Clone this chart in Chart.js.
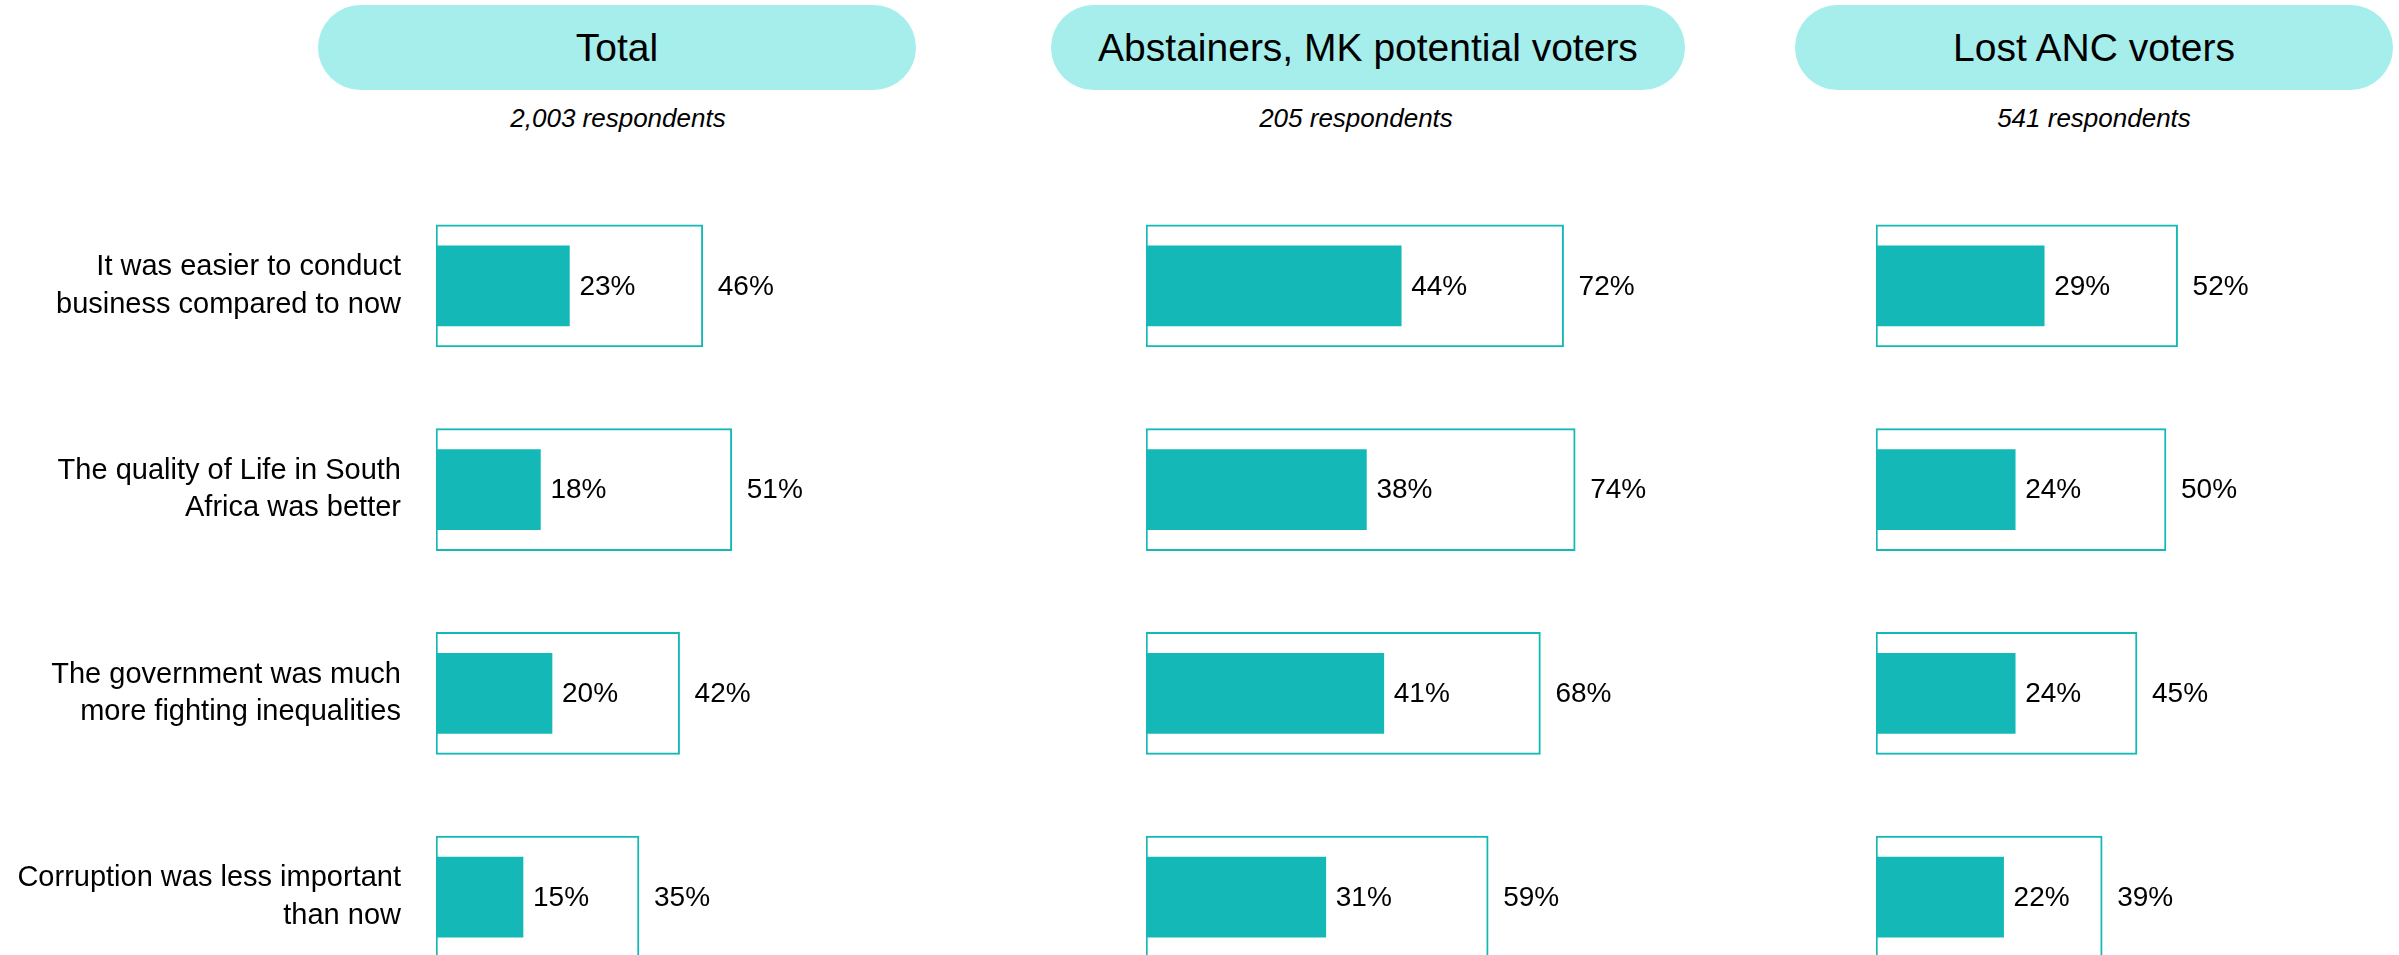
<!DOCTYPE html>
<html lang="en">
<head>
<meta charset="utf-8">
<title>Past was better – by group</title>
<script src="https://cdn.jsdelivr.net/npm/chart.js@4.4.1/dist/chart.umd.min.js"></script>
<style>
  html, body {
    margin: 0;
    padding: 0;
    width: 2399px;
    height: 955px;
    overflow: hidden;
    background: #fff;
    position: relative;
    font-family: "Liberation Sans", Arial, sans-serif;
    color: #000;
  }
  .pill {
    position: absolute;
    top: 5px;
    height: 85px;
    border-radius: 43px;
    background: #a6eeec;
    display: flex;
    align-items: center;
    justify-content: center;
    font-size: 39px;
  }
  .sub {
    position: absolute;
    top: 100px;
    height: 36px;
    line-height: 36px;
    font-size: 26px;
    font-style: italic;
    text-align: center;
    white-space: nowrap;
  }
  .chart-wrap {
    position: absolute;
    top: 184px;
    height: 815px;
  }
</style>
</head>
<body>

<div id="headers"></div>
<div class="chart-wrap" id="wrap0"><canvas id="chart0"></canvas></div>
<div class="chart-wrap" id="wrap1"><canvas id="chart1"></canvas></div>
<div class="chart-wrap" id="wrap2"><canvas id="chart2"></canvas></div>

<script>
// ── Data ──────────────────────────────────────────────────────────────────────
const statements = [
  ['It was easier to conduct', 'business compared to now'],
  ['The quality of Life in South', 'Africa was better'],
  ['The government was much', 'more fighting inequalities'],
  ['Corruption was less important', 'than now'],
];

const groups      = ['Total', 'Abstainers, MK potential voters', 'Lost ANC voters'];
const respondents = ['2,003 respondents', '205 respondents', '541 respondents'];

// inner (solid) bar values, %
const strongTotal      = [23, 18, 20, 15];
const strongAbstainers = [44, 38, 41, 31];
const strongLostAnc    = [29, 24, 24, 22];

// outer (box) values, %
const anyTotal      = [46, 51, 42, 35];
const anyAbstainers = [72, 74, 68, 59];
const anyLostAnc    = [52, 50, 45, 39];

const innerSeries = [strongTotal, strongAbstainers, strongLostAnc];
const outerSeries = [anyTotal, anyAbstainers, anyLostAnc];

// ── Look ──────────────────────────────────────────────────────────────────────
const TEAL = '#14b9b7';
const FONT = '"Liberation Sans", Arial, sans-serif';
const PX_PER_PCT = 5.8;

// panel layout: where each plot area starts, its width, the header pill
const PANELS = [
  { left: 0,    plotLeft: 436,  width: 1016, pill: [318, 598],  subCenter: 618 },
  { left: 1146, plotLeft: 1146, width: 580,  pill: [1051, 634], subCenter: 1356 },
  { left: 1876, plotLeft: 1876, width: 523,  pill: [1795, 598], subCenter: 2094 },
];

// ── Headers ───────────────────────────────────────────────────────────────────
const headers = document.getElementById('headers');
PANELS.forEach((p, i) => {
  const pill = document.createElement('div');
  pill.className = 'pill';
  pill.style.left = p.pill[0] + 'px';
  pill.style.width = p.pill[1] + 'px';
  pill.textContent = groups[i];
  headers.appendChild(pill);

  const sub = document.createElement('div');
  sub.className = 'sub';
  sub.style.left = (p.subCenter - 200) + 'px';
  sub.style.width = '400px';
  sub.textContent = respondents[i];
  headers.appendChild(sub);
});

// ── Value labels plugin ───────────────────────────────────────────────────────
const valueLabels = {
  id: 'valueLabels',
  afterDatasetsDraw(chart) {
    const ctx = chart.ctx;
    ctx.save();
    ctx.font = `28px ${FONT}`;
    ctx.fillStyle = '#000';
    ctx.textAlign = 'left';
    ctx.textBaseline = 'middle';
    chart.data.datasets.forEach((ds, di) => {
      const meta = chart.getDatasetMeta(di);
      const gap = di === 0 ? 10 : 15;
      meta.data.forEach((bar, i) => {
        ctx.fillText(ds.data[i] + '%', bar.x + gap, bar.y + 1);
      });
    });
    ctx.restore();
  }
};

// ── Charts ────────────────────────────────────────────────────────────────────
function renderPanel(i) {
  const p = PANELS[i];
  const wrap = document.getElementById('wrap' + i);
  wrap.style.left = p.left + 'px';
  wrap.style.width = p.width + 'px';

  const canvas = document.getElementById('chart' + i);
  canvas.width = p.width;
  canvas.height = 815;

  const plotWidth = p.width - (p.plotLeft - p.left);
  const showLabels = i === 0;

  new Chart(canvas, {
    type: 'bar',
    data: {
      labels: statements,
      datasets: [
        {
          label: 'inner',
          data: innerSeries[i],
          backgroundColor: TEAL,
          borderWidth: 0,
          barThickness: 80,
          grouped: false,
        },
        {
          label: 'outer',
          data: outerSeries[i],
          backgroundColor: '#ffffff',
          borderColor: TEAL,
          borderWidth: 2,
          borderSkipped: false,
          barThickness: 122,
          grouped: false,
        },
      ]
    },
    options: {
      indexAxis: 'y',
      responsive: false,
      animation: false,
      devicePixelRatio: 1,
      layout: { padding: 0 },
      plugins: {
        legend: { display: false },
        tooltip: { enabled: false },
      },
      scales: {
        x: {
          display: false,
          min: 0,
          max: plotWidth / PX_PER_PCT,
        },
        y: {
          display: showLabels,
          offset: true,
          grid: { display: false, drawTicks: false },
          border: { display: false },
          ticks: {
            autoSkip: false,
            padding: 35,
            color: '#000',
            font: { family: FONT, size: 29, lineHeight: 1.3 },
          },
          afterFit(scale) {
            // fixed label column; keep the bands the same as the other panels
            scale.width = p.plotLeft - p.left;
            scale.paddingTop = 0;
            scale.paddingBottom = 0;
          },
        }
      }
    },
    plugins: [valueLabels]
  });
}

PANELS.forEach((p, i) => renderPanel(i));
</script>
</body>
</html>
